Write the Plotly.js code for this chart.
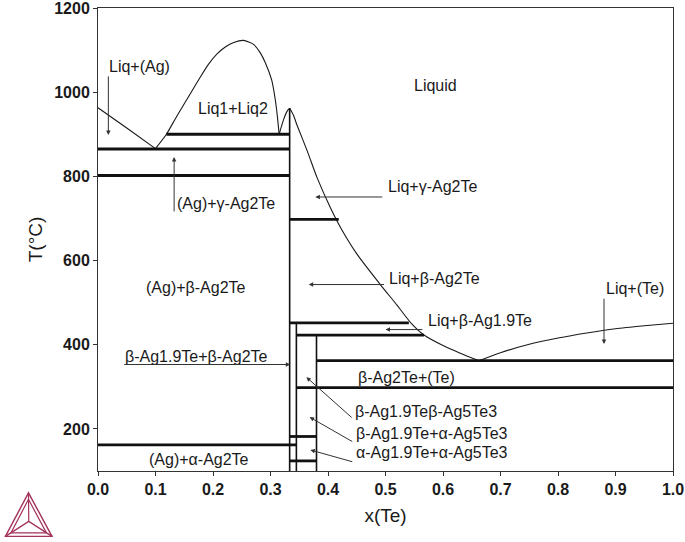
<!DOCTYPE html>
<html><head><meta charset="utf-8">
<script src="https://cdn.plot.ly/plotly-3.0.1.min.js"></script>
<style>html,body{margin:0;padding:0;background:#fff}</style>
</head><body><div id="chart" style="width:685px;height:542px"></div>
<script>
// ---- phase boundary data (x(Te), T in °C) ----
const liqAgX = [0.000, 0.050, 0.100];
const liqAgT = [963, 915, 866];

const gapX = [0.100, 0.119, 0.137, 0.160, 0.178, 0.192, 0.207, 0.222, 0.236, 0.253, 0.271, 0.282, 0.291, 0.302, 0.308, 0.312, 0.315];
const gapT = [866, 900, 943, 995, 1036, 1066, 1091, 1108, 1118, 1123, 1113, 1094, 1070, 1029, 985, 942, 900];

const peakLeftX = [0.315, 0.323, 0.329, 0.3335];
const peakLeftT = [900, 936, 955, 962];

const liqAg2TeX = [0.3335, 0.340, 0.346, 0.364, 0.381, 0.404, 0.422, 0.451, 0.491, 0.520, 0.544, 0.567, 0.600, 0.630, 0.6626];
const liqAg2TeT = [962, 945, 922, 860, 797, 726, 678, 614, 543, 494, 452, 423, 398, 380, 362];

const liqTeX = [0.6626, 0.700, 0.750, 0.800, 0.850, 0.900, 0.950, 1.000];
const liqTeT = [362, 381, 401, 416, 428, 438, 445, 451];

// invariant (horizontal) lines: from x0 to x1 at T
const isoX0 = [0.119, 0.000, 0.000, 0.3333, 0.3333, 0.345, 0.380, 0.345, 0.000, 0.3333, 0.3333];
const isoX1 = [0.3333, 0.3333, 0.3333, 0.4187, 0.5406, 0.567, 1.000, 1.000, 0.345, 0.380, 0.380];
const isoT  = [900, 865, 802, 698, 452, 423, 362, 298, 162, 182, 124];

// compound (vertical) lines
const vertX  = [0.3333, 0.345, 0.380];
const vertT0 = [100, 100, 100];
const vertT1 = [962, 452, 423];

// tick labels
const xTickVals = [0, 0.1, 0.2, 0.3, 0.4, 0.5, 0.6, 0.7, 0.8, 0.9, 1.0];
const yTickVals = [200, 400, 600, 800, 1000, 1200];

// ---- build traces ----
function segs(x0s, x1s, ys) {
  const x = [], y = [];
  for (let i = 0; i < x0s.length; i++) { x.push(x0s[i], x1s[i], null); y.push(ys[i], ys[i], null); }
  return {x, y};
}
function vsegs(xs, y0s, y1s) {
  const x = [], y = [];
  for (let i = 0; i < xs.length; i++) { x.push(xs[i], xs[i], null); y.push(y0s[i], y1s[i], null); }
  return {x, y};
}
const thin = {color: '#1a1a1a', width: 1.1, shape: 'spline', smoothing: 0.6};
const curve = (x, y) => ({type: 'scatter', mode: 'lines', x, y, line: thin, hoverinfo: 'skip', showlegend: false, cliponaxis: false});
const iso = segs(isoX0, isoX1, isoT);
const vv = vsegs(vertX, vertT0, vertT1);

const traces = [
  curve(liqAgX, liqAgT),
  curve(gapX, gapT),
  curve(peakLeftX, peakLeftT),
  curve(liqAg2TeX, liqAg2TeT),
  curve(liqTeX, liqTeT),
  {type: 'scatter', mode: 'lines', x: vv.x, y: vv.y, line: {color: '#111', width: 1.6}, hoverinfo: 'skip', showlegend: false, cliponaxis: false},
  {type: 'scatter', mode: 'lines', x: iso.x, y: iso.y, line: {color: '#111', width: 2.8}, hoverinfo: 'skip', showlegend: false, cliponaxis: false}
];

// ---- region labels ----
const labels = [
  {t: 'Liq+(Ag)', x: 0.016, y: 1062, a: 'left'},
  {t: 'Liq1+Liq2', x: 0.235, y: 961, a: 'center'},
  {t: '(Ag)+γ-Ag2Te', x: 0.134, y: 736, a: 'left'},
  {t: 'Liquid', x: 0.587, y: 1015, a: 'center'},
  {t: 'Liq+γ-Ag2Te', x: 0.500, y: 775, a: 'left'},
  {t: 'Liq+β-Ag2Te', x: 0.503, y: 557, a: 'left'},
  {t: 'Liq+(Te)', x: 0.880, y: 533, a: 'left'},
  {t: 'Liq+β-Ag1.9Te', x: 0.570, y: 458, a: 'left'},
  {t: '(Ag)+β-Ag2Te', x: 0.170, y: 537, a: 'center'},
  {t: 'β-Ag1.9Te+β-Ag2Te', x: 0.043, y: 372, a: 'left'},
  {t: 'β-Ag2Te+(Te)', x: 0.537, y: 323, a: 'center'},
  {t: 'β-Ag1.9Teβ-Ag5Te3', x: 0.4437, y: 242, a: 'left'},
  {t: 'β-Ag1.9Te+α-Ag5Te3', x: 0.4448, y: 189, a: 'left'},
  {t: 'α-Ag1.9Te+α-Ag5Te3', x: 0.446, y: 143, a: 'left'},
  {t: '(Ag)+α-Ag2Te', x: 0.176, y: 128, a: 'center'}
];
// arrows: tail (x0,y0) -> head (x1,y1)
const arrows = [
  {x0: 0.018, y0: 1041, x1: 0.018, y1: 898},
  {x0: 0.1324, y0: 713, x1: 0.1324, y1: 846},
  {x0: 0.497, y0: 751, x1: 0.378, y1: 751},
  {x0: 0.500, y0: 543, x1: 0.3664, y1: 543},
  {x0: 0.880, y0: 513, x1: 0.880, y1: 402},
  {x0: 0.5667, y0: 436, x1: 0.500, y1: 436},
  {x0: 0.043, y0: 353, x1: 0.3345, y1: 353},
  {x0: 0.4437, y0: 224, x1: 0.3624, y1: 323},
  {x0: 0.4448, y0: 168, x1: 0.368, y1: 228},
  {x0: 0.4448, y0: 121, x1: 0.3693, y1: 150}
];

const annFont = {family: 'Liberation Sans, Arial, sans-serif', size: 16, color: '#1a1a1a'};
const annotations = labels.map(l => ({
  x: l.x, y: l.y, xref: 'x', yref: 'y', text: l.t, showarrow: false,
  xanchor: l.a, yanchor: 'middle', font: annFont
})).concat(arrows.map(a => ({
  x: a.x1, y: a.y1, ax: a.x0, ay: a.y0, xref: 'x', yref: 'y', axref: 'x', ayref: 'y',
  text: '', showarrow: true, arrowhead: 2, arrowsize: 0.9, arrowwidth: 1, arrowcolor: '#333', standoff: 0, startstandoff: 0
})));

// ---- Thermo-Calc style logo (decoration, pixel -> paper) ----
const L = 98, R = 672.7, T0 = 8.3, B = 470.7;
const px = v => ((v - L) / (R - L)).toFixed(4);
const py = v => ((B - v) / (B - T0)).toFixed(4);
function tri(p) { return 'M' + p.map(q => px(q[0]) + ',' + py(q[1])).join(' L') + ' Z'; }
const logoColor = '#a3325c';
const outer = [[28.5, 492.5], [5.5, 536], [52, 536]];
const inner = [[28.5, 499], [11, 532.5], [46.5, 532.5]];
const ctr = [28.8, 521];
const shapes = [
  {type: 'path', xref: 'paper', yref: 'paper', path: tri(outer), line: {color: logoColor, width: 1.4}},
  {type: 'path', xref: 'paper', yref: 'paper', path: tri(inner), line: {color: logoColor, width: 1.2}},
  {type: 'path', xref: 'paper', yref: 'paper',
   path: 'M' + px(ctr[0]) + ',' + py(ctr[1]) + ' L' + px(outer[0][0]) + ',' + py(outer[0][1]) +
         ' M' + px(ctr[0]) + ',' + py(ctr[1]) + ' L' + px(outer[1][0]) + ',' + py(outer[1][1]) +
         ' M' + px(ctr[0]) + ',' + py(ctr[1]) + ' L' + px(outer[2][0]) + ',' + py(outer[2][1]),
   line: {color: logoColor, width: 1.2}}
];

const tickFont = {family: 'Liberation Sans, Arial, sans-serif', size: 16, color: '#1a1a1a', weight: 'bold'};
const titleFont = {family: 'Liberation Sans, Arial, sans-serif', size: 19, color: '#1a1a1a'};

const layout = {
  width: 685, height: 542,
  margin: {l: 98, r: 12, t: 8, b: 71, pad: 0},
  paper_bgcolor: '#fff', plot_bgcolor: '#fff',
  showlegend: false,
  xaxis: {
    range: [0, 1], tickvals: xTickVals, tickformat: '.1f', ticks: 'outside', ticklen: 4, tickcolor: '#333',
    showgrid: false, zeroline: false, showline: true, linecolor: '#333', linewidth: 1, mirror: true,
    ticklabeloverflow: 'allow',
    tickfont: tickFont, title: {text: 'x(Te)', font: titleFont, standoff: 11}
  },
  yaxis: {
    range: [100, 1200], tickvals: yTickVals, ticks: 'outside', ticklen: 4, tickcolor: '#333',
    showgrid: false, zeroline: false, showline: true, linecolor: '#333', linewidth: 1, mirror: true,
    ticklabeloverflow: 'allow',
    tickfont: tickFont, title: {text: 'T(°C)', font: titleFont, standoff: 6}
  },
  annotations, shapes
};

Plotly.newPlot('chart', traces, layout, {staticPlot: true, displayModeBar: false});
</script></body></html>
